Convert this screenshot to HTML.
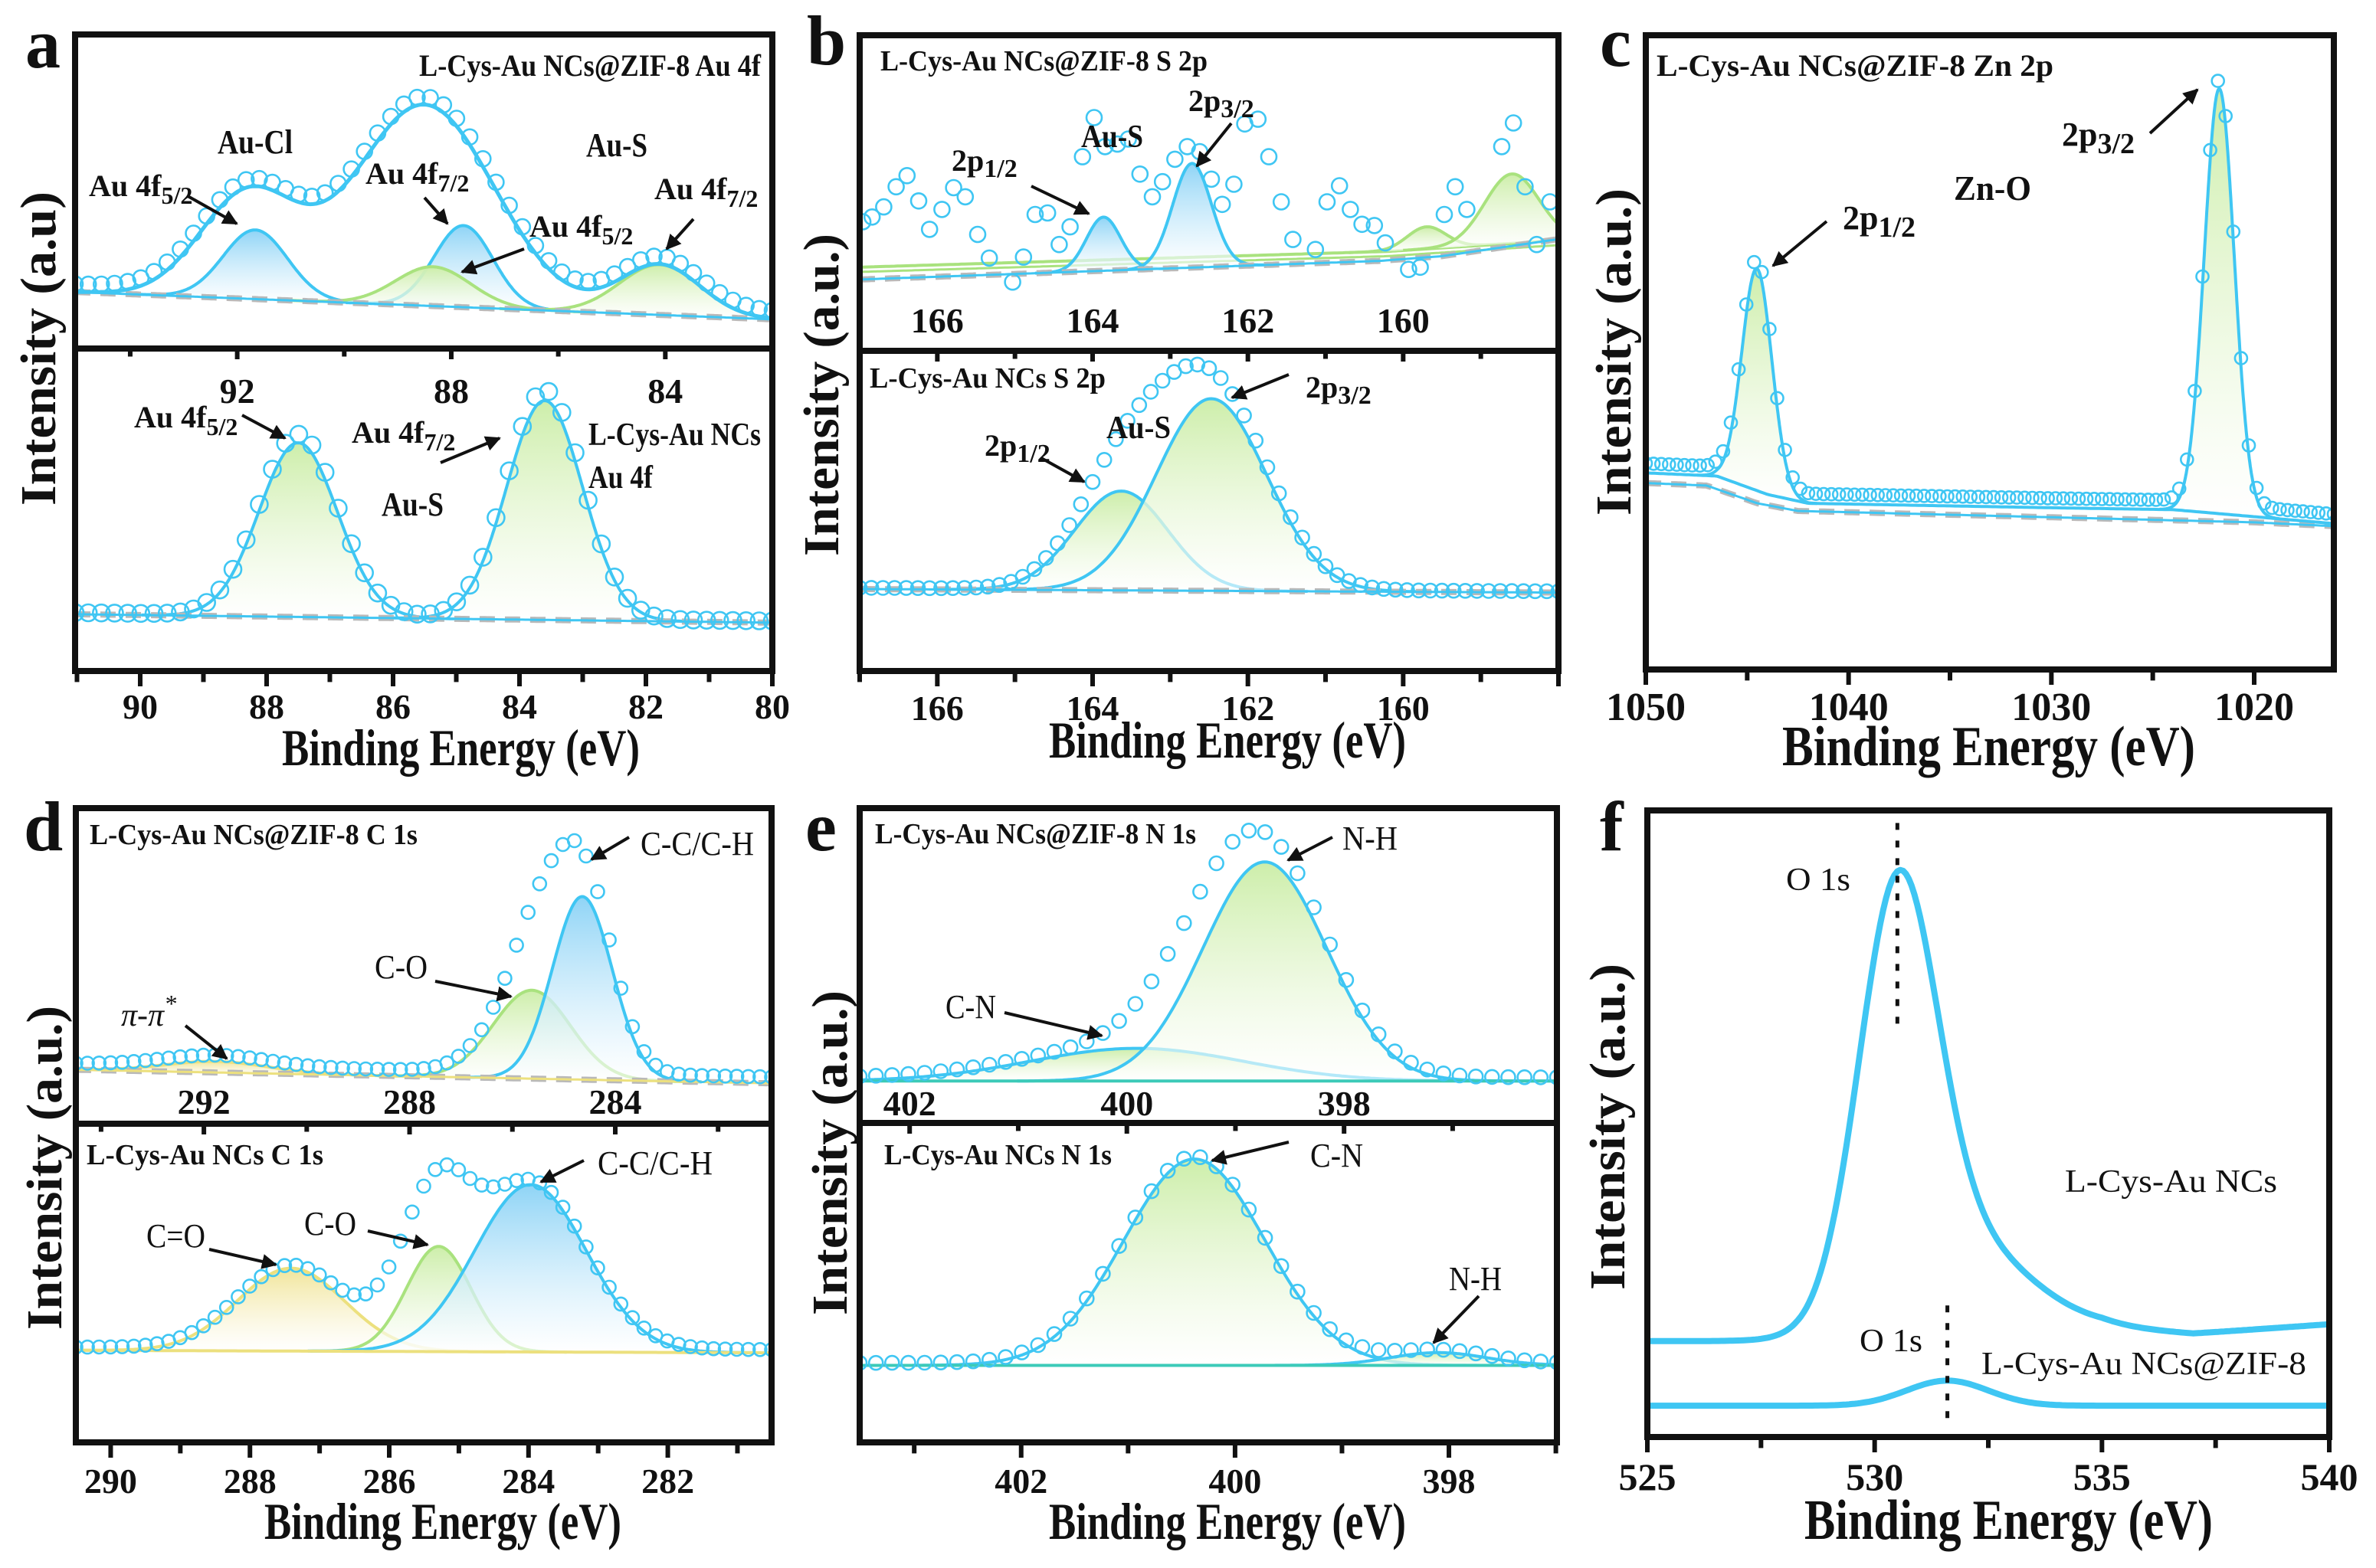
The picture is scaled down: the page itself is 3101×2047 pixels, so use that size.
<!DOCTYPE html>
<html><head><meta charset="utf-8"><title>XPS spectra</title>
<style>
html,body{margin:0;padding:0;background:#fff;}
svg{display:block;}
text{font-family:"Liberation Serif",serif;font-weight:bold;fill:#111;}
.reg{font-weight:normal;}
</style></head>
<body>
<svg id="fig" width="3101" height="2047" viewBox="0 0 3101 2047" xmlns="http://www.w3.org/2000/svg">
<defs>
<linearGradient id="gB" x1="0" y1="0" x2="0" y2="1"><stop offset="0" stop-color="#8fd4f6"/><stop offset="1" stop-color="#ffffff" stop-opacity="0.6"/></linearGradient>
<linearGradient id="gG" x1="0" y1="0" x2="0" y2="1"><stop offset="0" stop-color="#cdeeaa"/><stop offset="1" stop-color="#ffffff" stop-opacity="0.6"/></linearGradient>
<linearGradient id="gY" x1="0" y1="0" x2="0" y2="1"><stop offset="0" stop-color="#f1e59a"/><stop offset="1" stop-color="#ffffff" stop-opacity="0.6"/></linearGradient>
<marker id="arr" viewBox="0 0 10 10" refX="9" refY="5" markerWidth="5" markerHeight="5" orient="auto"><path d="M0,0 L10,5 L0,10 z" fill="#111"/></marker>
</defs>
<g id="marks"></g>

<!-- frames -->
<g fill="none" stroke="#111" stroke-width="8">
<rect x="98" y="45" width="910" height="831"/>
<line x1="98" y1="455" x2="1008" y2="455"/>
<rect x="1122" y="46" width="912" height="830"/>
<line x1="1122" y1="458" x2="2034" y2="458"/>
<rect x="2148" y="46" width="898" height="828"/>
<rect x="99" y="1055" width="908" height="828"/>
<line x1="99" y1="1467" x2="1007" y2="1467"/>
<rect x="1122" y="1055" width="910" height="828"/>
<line x1="1122" y1="1466" x2="2032" y2="1466"/>
<rect x="2150" y="1058" width="890" height="818"/>
</g>

<!-- panel letters -->
<text x="33" y="88" font-size="92">a</text>
<text x="1053" y="84" font-size="92">b</text>
<text x="2088" y="86" font-size="92">c</text>
<text x="31" y="1110" font-size="92">d</text>
<text x="1051" y="1110" font-size="92">e</text>
<text x="2088" y="1110" font-size="92">f</text>

<!-- axis titles -->
<text x="368" y="999" font-size="68" textLength="467" lengthAdjust="spacingAndGlyphs">Binding Energy (eV)</text>
<text x="1369" y="989" font-size="68" textLength="466" lengthAdjust="spacingAndGlyphs">Binding Energy (eV)</text>
<text x="2326" y="999" font-size="74" textLength="539" lengthAdjust="spacingAndGlyphs">Binding Energy (eV)</text>
<text x="345" y="2009" font-size="68" textLength="466" lengthAdjust="spacingAndGlyphs">Binding Energy (eV)</text>
<text x="1369" y="2009" font-size="68" textLength="466" lengthAdjust="spacingAndGlyphs">Binding Energy (eV)</text>
<text x="2355" y="2009" font-size="74" textLength="533" lengthAdjust="spacingAndGlyphs">Binding Energy (eV)</text>

<text transform="translate(72,660) rotate(-90)" font-size="66" textLength="410" lengthAdjust="spacingAndGlyphs">Intensity (a.u)</text>
<text transform="translate(1094,726) rotate(-90)" font-size="66" textLength="421" lengthAdjust="spacingAndGlyphs">Intensity (a.u.)</text>
<text transform="translate(2128,673) rotate(-90)" font-size="66" textLength="427" lengthAdjust="spacingAndGlyphs">Intensity (a.u.)</text>
<text transform="translate(80,1736) rotate(-90)" font-size="66" textLength="423" lengthAdjust="spacingAndGlyphs">Intensity (a.u.)</text>
<text transform="translate(1105,1717) rotate(-90)" font-size="66" textLength="424" lengthAdjust="spacingAndGlyphs">Intensity (a.u.)</text>
<text transform="translate(2120,1684) rotate(-90)" font-size="66" textLength="426" lengthAdjust="spacingAndGlyphs">Intensity (a.u.)</text>

<!-- panel a annotations -->
<text x="547" y="99" font-size="40" textLength="446" lengthAdjust="spacingAndGlyphs">L-Cys-Au NCs@ZIF-8  Au 4f</text>
<text x="284" y="200" font-size="44" textLength="98" lengthAdjust="spacingAndGlyphs">Au-Cl</text>
<text x="765" y="204" font-size="44" textLength="80" lengthAdjust="spacingAndGlyphs">Au-S</text>
<text x="116" y="256" font-size="40">Au 4f<tspan font-size="32" dy="10">5/2</tspan></text>
<text x="477" y="240" font-size="40">Au 4f<tspan font-size="32" dy="10">7/2</tspan></text>
<text x="691" y="309" font-size="40">Au 4f<tspan font-size="32" dy="10">5/2</tspan></text>
<text x="854" y="260" font-size="40">Au 4f<tspan font-size="32" dy="10">7/2</tspan></text>
<text x="175" y="558" font-size="40">Au 4f<tspan font-size="32" dy="10">5/2</tspan></text>
<text x="459" y="578" font-size="40">Au 4f<tspan font-size="32" dy="10">7/2</tspan></text>
<text x="498" y="673" font-size="44" textLength="81" lengthAdjust="spacingAndGlyphs">Au-S</text>
<text x="768" y="581" font-size="42" textLength="225" lengthAdjust="spacingAndGlyphs">L-Cys-Au NCs</text>
<text x="768" y="637" font-size="42" textLength="84" lengthAdjust="spacingAndGlyphs">Au 4f</text>

<!-- panel b annotations -->
<text x="1149" y="92" font-size="38" textLength="427" lengthAdjust="spacingAndGlyphs">L-Cys-Au NCs@ZIF-8  S 2p</text>
<text x="1411" y="192" font-size="42" textLength="81" lengthAdjust="spacingAndGlyphs">Au-S</text>
<text x="1242" y="223" font-size="40">2p<tspan font-size="34" dy="8">1/2</tspan></text>
<text x="1551" y="145" font-size="40">2p<tspan font-size="34" dy="8">3/2</tspan></text>
<text x="1135" y="506" font-size="38" textLength="308" lengthAdjust="spacingAndGlyphs">L-Cys-Au NCs  S 2p</text>
<text x="1704" y="519" font-size="40">2p<tspan font-size="34" dy="8">3/2</tspan></text>
<text x="1444" y="572" font-size="42" textLength="84" lengthAdjust="spacingAndGlyphs">Au-S</text>
<text x="1285" y="595" font-size="40">2p<tspan font-size="34" dy="8">1/2</tspan></text>

<!-- panel c annotations -->
<text x="2162" y="99" font-size="40" textLength="518" lengthAdjust="spacingAndGlyphs">L-Cys-Au NCs@ZIF-8  Zn 2p</text>
<text x="2691" y="190" font-size="44">2p<tspan font-size="38" dy="10">3/2</tspan></text>
<text x="2550" y="261" font-size="46" textLength="101" lengthAdjust="spacingAndGlyphs">Zn-O</text>
<text x="2405" y="299" font-size="44">2p<tspan font-size="38" dy="10">1/2</tspan></text>

<!-- panel d annotations -->
<text x="117" y="1102" font-size="38" textLength="428" lengthAdjust="spacingAndGlyphs">L-Cys-Au NCs@ZIF-8  C 1s</text>
<text x="836" y="1116" font-size="44" textLength="148" lengthAdjust="spacingAndGlyphs" class="reg">C-C/C-H</text>
<text x="489" y="1277" font-size="44" textLength="69" lengthAdjust="spacingAndGlyphs" class="reg">C-O</text>
<text x="158" y="1339" font-size="42" font-style="italic" class="reg">π-π<tspan font-size="32" dy="-18">*</tspan></text>
<text x="113" y="1520" font-size="38" textLength="309" lengthAdjust="spacingAndGlyphs">L-Cys-Au NCs  C 1s</text>
<text x="780" y="1533" font-size="44" textLength="150" lengthAdjust="spacingAndGlyphs" class="reg">C-C/C-H</text>
<text x="397" y="1612" font-size="44" textLength="68" lengthAdjust="spacingAndGlyphs" class="reg">C-O</text>
<text x="191" y="1628" font-size="44" textLength="77" lengthAdjust="spacingAndGlyphs" class="reg">C=O</text>

<!-- panel e annotations -->
<text x="1142" y="1101" font-size="38" textLength="419" lengthAdjust="spacingAndGlyphs">L-Cys-Au NCs@ZIF-8 N 1s</text>
<text x="1752" y="1109" font-size="44" textLength="72" lengthAdjust="spacingAndGlyphs" class="reg">N-H</text>
<text x="1234" y="1329" font-size="44" textLength="66" lengthAdjust="spacingAndGlyphs" class="reg">C-N</text>
<text x="1154" y="1520" font-size="38" textLength="297" lengthAdjust="spacingAndGlyphs">L-Cys-Au NCs N 1s</text>
<text x="1710" y="1523" font-size="44" textLength="69" lengthAdjust="spacingAndGlyphs" class="reg">C-N</text>
<text x="1891" y="1684" font-size="44" textLength="69" lengthAdjust="spacingAndGlyphs" class="reg">N-H</text>

<!-- panel f annotations -->
<text x="2331" y="1162" font-size="42" textLength="84" lengthAdjust="spacingAndGlyphs" class="reg">O 1s</text>
<text x="2695" y="1556" font-size="42" textLength="277" lengthAdjust="spacingAndGlyphs" class="reg">L-Cys-Au NCs</text>
<text x="2427" y="1764" font-size="42" textLength="82" lengthAdjust="spacingAndGlyphs" class="reg">O 1s</text>
<text x="2586" y="1794" font-size="42" textLength="424" lengthAdjust="spacingAndGlyphs" class="reg">L-Cys-Au NCs@ZIF-8</text>

<!-- arrows -->
<g stroke="#111" stroke-width="4" marker-end="url(#arr)">
<line x1="245" y1="256" x2="309" y2="292"/>
<line x1="554" y1="258" x2="584" y2="292"/>
<line x1="684" y1="325" x2="603" y2="355"/>
<line x1="905" y1="286" x2="870" y2="325"/>
<line x1="316" y1="542" x2="372" y2="572"/>
<line x1="575" y1="604" x2="652" y2="572"/>
<line x1="1346" y1="243" x2="1421" y2="279"/>
<line x1="1607" y1="161" x2="1562" y2="217"/>
<line x1="1682" y1="489" x2="1608" y2="519"/>
<line x1="1359" y1="598" x2="1415" y2="629"/>
<line x1="2806" y1="174" x2="2868" y2="117"/>
<line x1="2384" y1="289" x2="2314" y2="347"/>
<line x1="821" y1="1093" x2="772" y2="1122"/>
<line x1="568" y1="1281" x2="667" y2="1301"/>
<line x1="242" y1="1339" x2="296" y2="1382"/>
<line x1="762" y1="1515" x2="706" y2="1543"/>
<line x1="480" y1="1607" x2="558" y2="1625"/>
<line x1="273" y1="1631" x2="360" y2="1651"/>
<line x1="1739" y1="1093" x2="1681" y2="1123"/>
<line x1="1311" y1="1322" x2="1438" y2="1352"/>
<line x1="1682" y1="1491" x2="1582" y2="1515"/>
<line x1="1930" y1="1692" x2="1871" y2="1753"/>
</g>
</svg>

<script>
// ===== DATA (energies in eV, intensities as fraction of sub-plot height) =====
// Panel a, top
const aTopBgX=[95.03,82.0];
const aTopBgF=[0.18,0.093];
const aTopCenters=[91.66,87.77,88.34,84.1];
const aTopHeights=[0.22,0.26,0.125,0.16];
const aTopSigmas=[0.6,0.55,0.7,0.75];
const aTopKinds=['blue','blue','green','green'];
const aTopEnvCenters=[91.8,88.5,84.1];
const aTopEnvHeights=[0.33,0.64,0.16];
const aTopEnvSigmas=[0.9,1.3,0.75];
const aTopTicks=[92,88,84];
// Panel a, bottom
const aBotBgX=[91.03,80];
const aBotBgF=[0.176,0.15];
const aBotCenters=[87.5,83.6];
const aBotHeights=[0.54,0.68];
const aBotSigmas=[0.62,0.6];
const aBotTicks=[90,88,86,84,82,80];
// Panel b, top
const bTopBgX=[167,160.3,159.5,158];
const bTopBgF=[0.226,0.285,0.30,0.354];
const bTopBg2X=[167,160.2,158];
const bTopBg2F=[0.265,0.315,0.35];
const bTopBlueCenters=[163.86,162.72];
const bTopBlueHeights=[0.17,0.33];
const bTopBlueSigmas=[0.22,0.25];
const bTopGreenCenters=[159.7,158.6];
const bTopGreenHeights=[0.07,0.22];
const bTopGreenSigmas=[0.25,0.35];
const bTopDataX=[166.96,166.84,166.69,166.53,166.39,166.24,166.10,165.94,165.79,165.64,165.48,165.33,165.03,164.89,164.74,164.58,164.43,164.29,164.13,163.98,163.84,163.68,163.54,163.39,163.23,163.10,162.94,162.78,162.62,162.47,162.33,162.18,162.04,161.87,161.73,161.57,161.42,161.13,160.98,160.82,160.68,160.53,160.37,160.23,159.93,159.78,159.47,159.33,159.18,158.73,158.58,158.43,158.28,158.11];
const bTopDataF=[0.409,0.424,0.456,0.52,0.555,0.475,0.385,0.448,0.517,0.488,0.369,0.294,0.218,0.297,0.432,0.437,0.337,0.393,0.615,0.739,0.647,0.655,0.671,0.56,0.488,0.536,0.607,0.647,0.631,0.544,0.464,0.528,0.719,0.734,0.615,0.472,0.353,0.321,0.472,0.523,0.448,0.401,0.397,0.342,0.258,0.265,0.432,0.52,0.448,0.647,0.722,0.52,0.337,0.472];
const bTicks=[166,164,162,160];
// Panel b, bottom
const bBotBgX=[167,158];
const bBotBgF=[0.256,0.245];
const bBotCenters=[163.63,162.47];
const bBotHeights=[0.31,0.60];
const bBotSigmas=[0.6,0.71];
// Panel c
const cBgX=[1050,1047,1044.5,1042.5,1030,1020,1016.07];
const cBgF=[0.294,0.29,0.262,0.25,0.24,0.232,0.226];
const cShX=[1050,1046.5,1044,1042,1030,1024,1016.07];
const cShF=[0.31,0.305,0.276,0.262,0.255,0.252,0.23];
const cCenters=[1044.52,1021.72];
const cHeights=[0.35,0.67];
const cSigmas=[0.74,0.74];
const cTicks=[1050,1040,1030,1020];
// Panel d, top
const dTopBgX=[294.49,280.96];
const dTopBgF=[0.171,0.128];
const dTopCenters=[291.76,285.62,284.64];
const dTopHeights=[0.035,0.28,0.58];
const dTopSigmas=[1.0,0.75,0.58];
const dTopKinds=['yellow','green','blue'];
const dTopExtraC=[285.6];
const dTopExtraH=[0.12];
const dTopExtraS=[0.45];
const dTopTicks=[292,288,284];
// Panel d, bottom
const dBotBgX=[290.5,280.51];
const dBotBgF=[0.289,0.281];
const dBotCenters=[287.41,285.29,283.97];
const dBotHeights=[0.26,0.33,0.525];
const dBotSigmas=[0.77,0.46,0.8];
const dBotKinds=['yellow','green','blue'];
const dBotExtraC=[285.6];
const dBotExtraH=[0.12];
const dBotExtraS=[0.5];
const dBotTicks=[290,288,286,284,282];
// Panel e, top
const eTopBgX=[402.46,396.04];
const eTopBgF=[0.133,0.133];
const eTopCenters=[399.91,398.73];
const eTopHeights=[0.104,0.696];
const eTopSigmas=[0.98,0.57];
const eTopExtraC=[399.4];
const eTopExtraH=[0.1];
const eTopExtraS=[0.45];
const eTopTicks=[402,400,398];
// Panel e, bottom
const eBotBgX=[403.51,396.99];
const eBotBgF=[0.241,0.241];
const eBotCenters=[400.38,398.1];
const eBotHeights=[0.646,0.04];
const eBotSigmas=[0.66,0.45];
const eBotTicks=[402,400,398];
// Panel f
const fTopBgX=[525,528.5,535,537,540];
const fTopBgF=[0.153,0.153,0.175,0.165,0.18];
const fTopCenters=[530.5,531.8];
const fTopHeights=[0.64,0.15];
const fTopSigmas=[0.85,1.5];
const fBotBgX=[525,540];
const fBotBgF=[0.05,0.05];
const fBotCenters=[531.6];
const fBotHeights=[0.04];
const fBotSigmas=[0.9];
const fMarkers=[530.5,531.6];
const fTicks=[525,530,535,540];

// ===== DRAWING =====
const NS='http://www.w3.org/2000/svg';
const svg=document.getElementById('fig');
const root=document.getElementById('marks');
const BLUE='#3fc6f3', GREEN='#a9e27e', YELLOW='#ece07e', GRAY='#b9b9b9';
let clipId=0;
function el(tag,attrs,parent){const e=document.createElementNS(NS,tag);for(const k in attrs)e.setAttribute(k,attrs[k]);(parent||root).appendChild(e);return e;}
function axis(x0,x1,px0,px1,py0,py1){return {x0,x1,px0,px1,py0,py1,x:d=>px0+(d-x0)/(x1-x0)*(px1-px0),y:f=>py1-f*(py1-py0)};}
function interp(xs,fs,x){
  for(let i=0;i<xs.length-1;i++){const a=xs[i],b=xs[i+1];if((x-a)*(x-b)<=0)return fs[i]+(fs[i+1]-fs[i])*(x-a)/(b-a);}
  return Math.abs(x-xs[0])<Math.abs(x-xs[xs.length-1])?fs[0]:fs[fs.length-1];
}
function gauss(x,c,h,s){return h*Math.exp(-0.5*((x-c)/s)*((x-c)/s));}
function sumG(x,cs,hs,ss){let v=0;for(let i=0;i<cs.length;i++)v+=gauss(x,cs[i],hs[i],ss[i]);return v;}
function group(ax,name){
  clipId++;
  const cp=el('clipPath',{id:'cp'+clipId},svg.querySelector('defs'));
  el('rect',{x:Math.min(ax.px0,ax.px1),y:ax.py0,width:Math.abs(ax.px1-ax.px0),height:ax.py1-ax.py0},cp);
  const g=el('g',{'clip-path':'url(#cp'+clipId+')'});
  
  
  return g;
}
function curvePts(ax,fn,a,b){const pts=[];const n=240;for(let i=0;i<=n;i++){const x=a+(b-a)*i/n;pts.push([ax.x(x),ax.y(fn(x))]);}return pts;}
function ptsStr(p){return p.map(q=>q[0].toFixed(1)+','+q[1].toFixed(1)).join(' ');}
function drawBase(g,ax,bx,bf,name,opts){
  const p=curvePts(ax,x=>interp(bx,bf,x),ax.x0,ax.x1);
  if(opts.dashed){
    const d=el('polyline',{points:ptsStr(p),fill:'none',stroke:GRAY,'stroke-width':8,'stroke-dasharray':'20 13'},g);
    
    
  }
  const l=el('polyline',{points:ptsStr(p),fill:'none',stroke:opts.color||BLUE,'stroke-width':opts.w||3},g);
  
  
}
function drawComp(g,ax,bx,bf,c,h,s,kind,name){
  const lo=Math.max(Math.min(ax.x0,ax.x1),c-4*s), hi=Math.min(Math.max(ax.x0,ax.x1),c+4*s);
  const top=curvePts(ax,x=>interp(bx,bf,x)+gauss(x,c,h,s),lo,hi);
  const bot=curvePts(ax,x=>interp(bx,bf,x),lo,hi).reverse();
  const fill={blue:'url(#gB)',green:'url(#gG)',gb:'url(#gG)',yellow:'url(#gY)'}[kind];
  const stroke={blue:BLUE,green:GREEN,gb:BLUE,yellow:YELLOW}[kind];
  const f=el('polygon',{points:ptsStr(top.concat(bot)),fill:fill,stroke:'none'},g);
  
  
  const l=el('polyline',{points:ptsStr(top),fill:'none',stroke:stroke,'stroke-width':4},g);
  
  
}
function drawLine(g,ax,fn,name,color,w){
  const l=el('polyline',{points:ptsStr(curvePts(ax,fn,ax.x0,ax.x1)),fill:'none',stroke:color,'stroke-width':w,'stroke-linejoin':'round'},g);
  
  
}
function drawScatterFn(g,ax,fn,step,r,name){
  const n=Math.floor(Math.abs(ax.px1-ax.px0)/step);
  for(let i=0;i<=n;i++){
    const x=ax.x0+(ax.x1-ax.x0)*i/n;
    const c=el('circle',{cx:ax.x(x).toFixed(1),cy:ax.y(fn(x)).toFixed(1),r:r,fill:'none',stroke:BLUE,'stroke-width':2.6},g);
    
    
  }
}
function drawPoints(g,ax,xs,fs,r,name){
  for(let i=0;i<xs.length;i++){
    const c=el('circle',{cx:ax.x(xs[i]).toFixed(1),cy:ax.y(fs[i]).toFixed(1),r:r,fill:'none',stroke:BLUE,'stroke-width':2.6},g);
    
    
  }
}
function drawTicks(ax,yPx,majors,minorStep,len,name){
  const lo=Math.min(ax.x0,ax.x1),hi=Math.max(ax.x0,ax.x1);
  const step=majors.length>1?Math.abs(majors[1]-majors[0]):2;
  const ms=minorStep||step/2;
  let start=Math.ceil(lo/ms)*ms;
  for(let v=start;v<=hi+1e-9;v+=ms){
    const isMaj=majors.some(m=>Math.abs(m-v)<1e-6) || Math.abs((v/step)-Math.round(v/step))<1e-6;
    const t=el('line',{x1:ax.x(v),x2:ax.x(v),y1:yPx,y2:yPx+(isMaj?len:len*0.65),stroke:'#111','stroke-width':6});
    
    
  }
}
function drawTickLabels(ax,vals,yPx,size,name){
  for(const v of vals){
    const t=el('text',{x:ax.x(v).toFixed(1),y:yPx,'font-size':size,'text-anchor':'middle'});
    t.textContent=String(v);
    
    
  }
}

// ---- Panel a ----
(function(){
  const top=axis(95.03,82.0,98,1008,45,455), bot=axis(91.03,80,98,1008,455,876);
  let g=group(top,'a-top-plot');
  const env=x=>interp(aTopBgX,aTopBgF,x)+sumG(x,aTopEnvCenters,aTopEnvHeights,aTopEnvSigmas);
  for(let i=0;i<aTopCenters.length;i++)drawComp(g,top,aTopBgX,aTopBgF,aTopCenters[i],aTopHeights[i],aTopSigmas[i],aTopKinds[i],'a-top-peak-'+(i+1));
  drawBase(g,top,aTopBgX,aTopBgF,'a-top-background',{dashed:true});
  drawLine(g,top,env,'a-top-envelope',BLUE,5);
  drawScatterFn(g,top,x=>env(x)+0.025,17,10,'a-top-data-point');
  g=group(bot,'a-bottom-plot');
  for(let i=0;i<aBotCenters.length;i++)drawComp(g,bot,aBotBgX,aBotBgF,aBotCenters[i],aBotHeights[i],aBotSigmas[i],'gb','a-bottom-peak-'+(i+1));
  drawBase(g,bot,aBotBgX,aBotBgF,'a-bottom-background',{dashed:true});
  drawScatterFn(g,bot,x=>interp(aBotBgX,aBotBgF,x)+sumG(x,aBotCenters,aBotHeights,aBotSigmas)*1.04+0.005,17,11,'a-bottom-data-point');
  drawTicks(top,459,aTopTicks,2,10,'a-top');
  drawTickLabels(top,aTopTicks,526,46,'a-top');
  drawTicks(bot,880,aBotTicks,1,16,'a-bottom');
  drawTickLabels(bot,aBotTicks,938,46,'a-bottom');
})();

// ---- Panel b ----
(function(){
  const top=axis(167,158,1122,2034,46,458), bot=axis(167,158,1122,2034,458,876);
  let g=group(top,'b-top-plot');
  drawLine(g,top,x=>interp(bTopBg2X,bTopBg2F,x),'b-top-green-baseline',GREEN,4);
  drawLine(g,top,x=>interp(bTopBg2X,bTopBg2F,x)-0.015,'b-top-green-baseline-2',GREEN,3);
  for(let i=0;i<bTopGreenCenters.length;i++)drawComp(g,top,bTopBg2X,bTopBg2F,bTopGreenCenters[i],bTopGreenHeights[i],bTopGreenSigmas[i],'green','b-top-green-peak-'+(i+1));
  for(let i=0;i<bTopBlueCenters.length;i++)drawComp(g,top,bTopBgX,bTopBgF,bTopBlueCenters[i],bTopBlueHeights[i],bTopBlueSigmas[i],'blue','b-top-blue-peak-'+(i+1));
  drawBase(g,top,bTopBgX,bTopBgF,'b-top-background',{dashed:true});
  drawPoints(g,top,bTopDataX,bTopDataF,10,'b-top-data-point');
  g=group(bot,'b-bottom-plot');
  for(let i=0;i<bBotCenters.length;i++)drawComp(g,bot,bBotBgX,bBotBgF,bBotCenters[i],bBotHeights[i],bBotSigmas[i],'gb','b-bottom-peak-'+(i+1));
  drawBase(g,bot,bBotBgX,bBotBgF,'b-bottom-background',{dashed:true});
  drawScatterFn(g,bot,x=>interp(bBotBgX,bBotBgF,x)+sumG(x,bBotCenters,bBotHeights,bBotSigmas)*1.06+0.004,15,9,'b-bottom-data-point');
  drawTicks(top,462,bTicks,1,10,'b-top');
  drawTickLabels(top,bTicks,434,46,'b-top');
  drawTicks(bot,880,bTicks,1,16,'b-bottom');
  drawTickLabels(bot,bTicks,940,46,'b-bottom');
})();

// ---- Panel c ----
(function(){
  const ax=axis(1050,1016.07,2148,3046,46,874);
  const g=group(ax,'c-plot');
  for(let i=0;i<cCenters.length;i++)drawComp(g,ax,cShX,cShF,cCenters[i],cHeights[i],cSigmas[i],'gb','c-peak-'+(i+1));
  drawBase(g,ax,cBgX,cBgF,'c-background',{dashed:true});
  drawLine(g,ax,x=>interp(cShX,cShF,x),'c-shirley-background',BLUE,4);
  drawScatterFn(g,ax,x=>interp(cShX,cShF,x)+sumG(x,cCenters,cHeights,cSigmas)+0.015,10,8,'c-data-point');
  drawTicks(ax,878,cTicks,5,16,'c');
  drawTickLabels(ax,cTicks,940,52,'c');
})();

// ---- Panel d ----
(function(){
  const top=axis(294.49,280.96,99,1007,1055,1467), bot=axis(290.5,280.51,99,1007,1467,1883);
  let g=group(top,'d-top-plot');
  for(let i=0;i<dTopCenters.length;i++)drawComp(g,top,dTopBgX,dTopBgF,dTopCenters[i],dTopHeights[i],dTopSigmas[i],dTopKinds[i],'d-top-peak-'+(i+1));
  drawBase(g,top,dTopBgX,dTopBgF,'d-top-background',{dashed:true,color:YELLOW});
  drawScatterFn(g,top,x=>interp(dTopBgX,dTopBgF,x)+sumG(x,dTopCenters,dTopHeights,dTopSigmas)+sumG(x,dTopExtraC,dTopExtraH,dTopExtraS)+0.02,15,8.5,'d-top-data-point');
  g=group(bot,'d-bottom-plot');
  for(let i=0;i<dBotCenters.length;i++)drawComp(g,bot,dBotBgX,dBotBgF,dBotCenters[i],dBotHeights[i],dBotSigmas[i],dBotKinds[i],'d-bottom-peak-'+(i+1));
  drawBase(g,bot,dBotBgX,dBotBgF,'d-bottom-background',{color:YELLOW,w:4});
  drawScatterFn(g,bot,x=>interp(dBotBgX,dBotBgF,x)+sumG(x,dBotCenters,dBotHeights,dBotSigmas)+sumG(x,dBotExtraC,dBotExtraH,dBotExtraS)+0.01,15,8.5,'d-bottom-data-point');
  drawTicks(top,1471,dTopTicks,2,10,'d-top');
  drawTickLabels(top,dTopTicks,1454,46,'d-top');
  drawTicks(bot,1887,dBotTicks,1,16,'d-bottom');
  drawTickLabels(bot,dBotTicks,1949,46,'d-bottom');
})();

// ---- Panel e ----
(function(){
  const top=axis(402.46,396.04,1122,2032,1055,1466), bot=axis(403.51,396.99,1122,2032,1466,1883);
  let g=group(top,'e-top-plot');
  for(let i=0;i<eTopCenters.length;i++)drawComp(g,top,eTopBgX,eTopBgF,eTopCenters[i],eTopHeights[i],eTopSigmas[i],'gb','e-top-peak-'+(i+1));
  drawBase(g,top,eTopBgX,eTopBgF,'e-top-background',{color:'#3ccab8',w:4});
  drawScatterFn(g,top,x=>interp(eTopBgX,eTopBgF,x)+sumG(x,eTopCenters,eTopHeights,eTopSigmas)+sumG(x,eTopExtraC,eTopExtraH,eTopExtraS)+0.012,21,9,'e-top-data-point');
  g=group(bot,'e-bottom-plot');
  for(let i=0;i<eBotCenters.length;i++)drawComp(g,bot,eBotBgX,eBotBgF,eBotCenters[i],eBotHeights[i],eBotSigmas[i],'gb','e-bottom-peak-'+(i+1));
  drawBase(g,bot,eBotBgX,eBotBgF,'e-bottom-background',{color:'#3ccab8',w:4});
  drawScatterFn(g,bot,x=>interp(eBotBgX,eBotBgF,x)+sumG(x,eBotCenters,eBotHeights,eBotSigmas)+0.008,21,9,'e-bottom-data-point');
  drawTicks(top,1470,eTopTicks,1,10,'e-top');
  drawTickLabels(top,eTopTicks,1456,46,'e-top');
  drawTicks(bot,1887,eBotTicks,1,16,'e-bottom');
  drawTickLabels(bot,eBotTicks,1949,46,'e-bottom');
})();

// ---- Panel f ----
(function(){
  const ax=axis(525,540,2150,3040,1058,1876);
  const g=group(ax,'f-plot');
  drawLine(g,ax,x=>interp(fTopBgX,fTopBgF,x)+sumG(x,fTopCenters,fTopHeights,fTopSigmas),'f-curve-au-ncs',BLUE,8);
  drawLine(g,ax,x=>interp(fBotBgX,fBotBgF,x)+sumG(x,fBotCenters,fBotHeights,fBotSigmas),'f-curve-au-ncs-zif8',BLUE,8);
  const ranges=[[0.98,0.657],[0.21,0.02]];
  for(let i=0;i<fMarkers.length;i++){
    const l=el('line',{x1:ax.x(fMarkers[i]),x2:ax.x(fMarkers[i]),y1:ax.y(ranges[i][0]),y2:ax.y(ranges[i][1]),stroke:'#111','stroke-width':5,'stroke-dasharray':'9 14'},g);
    
    
  }
  drawTicks(ax,1880,fTicks,2.5,16,'f');
  drawTickLabels(ax,fTicks,1945,50,'f');
})();
</script>
</body></html>
